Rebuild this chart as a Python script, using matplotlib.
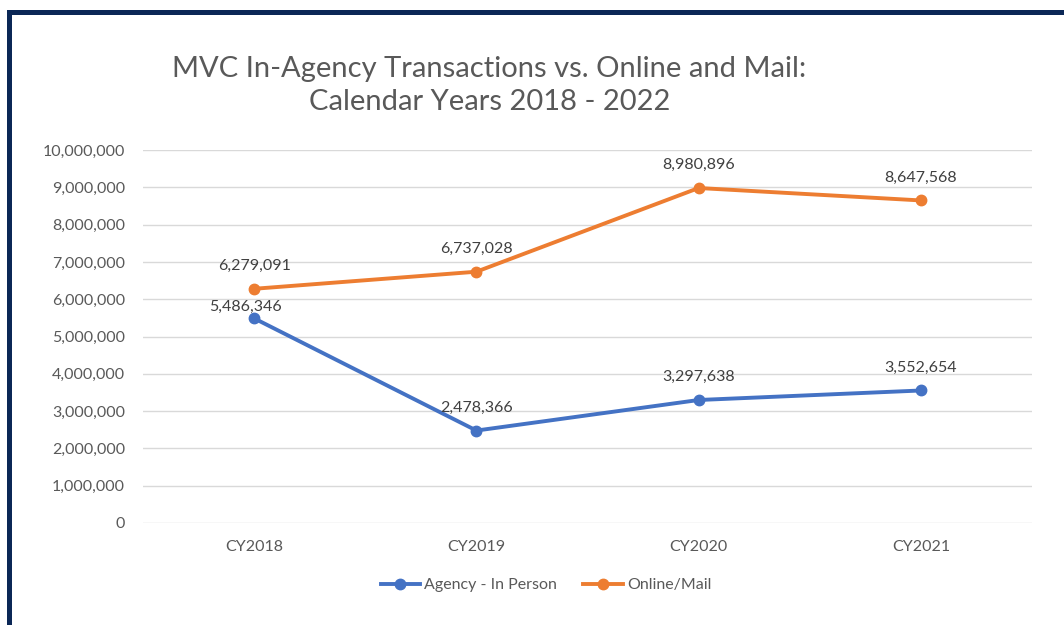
import matplotlib
matplotlib.use('Agg')
import matplotlib.pyplot as plt
from matplotlib.patches import Rectangle

# Данные
years = ['CY2018', 'CY2019', 'CY2020', 'CY2021']
in_person = [5486346, 2478366, 3297638, 3552654]
online_mail = [6279091, 6737028, 8980896, 8647568]

plt.rcParams['font.family'] = ['Lato', 'DejaVu Sans']

blue = '#4472C4'
orange = '#ED7D31'
tick_color = '#595959'
label_color = '#404040'

fig = plt.figure(figsize=(10.64, 6.25), dpi=100)
ax = fig.add_axes([0.1344, 0.1632, 0.8356, 0.5968])

x = range(len(years))
ax.plot(x, in_person, color=blue, lw=2.8, marker='o', ms=7.5, label='Agency - In Person')
ax.plot(x, online_mail, color=orange, lw=2.8, marker='o', ms=7.5, label='Online/Mail')

# Подписи значений
for i, v in enumerate(online_mail):
    ax.annotate(f'{v:,}', (i, v), xytext=(0, 16.5), textcoords='offset points',
                ha='center', va='center', fontsize=11.5, color=label_color)
for i, v in enumerate(in_person):
    off = (-6.5, 8.3) if i == 0 else (0, 16.5)
    ax.annotate(f'{v:,}', (i, v), xytext=off, textcoords='offset points',
                ha='center', va='center', fontsize=11.5, color=label_color)

ax.set_xlim(-0.5, 3.5)
ax.set_ylim(0, 10000000)
ax.set_yticks(range(0, 10000001, 1000000))
ax.yaxis.set_major_formatter(matplotlib.ticker.FuncFormatter(lambda v, p: f'{int(v):,}'))
ax.set_xticks(list(x))
ax.set_xticklabels(years)
ax.tick_params(length=0, labelsize=11.5, labelcolor=tick_color)
ax.tick_params(axis='y', pad=13)
ax.tick_params(axis='x', pad=12)
ax.grid(axis='y', color='#D9D9D9', lw=1)
ax.set_axisbelow(True)
for s in ax.spines.values():
    s.set_visible(False)

fig.text(0.46, 0.863, 'MVC In-Agency Transactions vs. Online and Mail:\nCalendar Years 2018 - 2022',
         ha='center', va='center', fontsize=21, color=tick_color, linespacing=1.32)

fig.legend(loc='center', bbox_to_anchor=(0.513, 0.064), ncol=2, frameon=False,
           fontsize=11.5, labelcolor=tick_color, handlelength=2.5, handletextpad=0.25,
           columnspacing=1.6)

# Рамка
navy = '#0B2756'
fig.add_artist(Rectangle((7 / 1064, 1 - 15 / 625), 1, 5 / 625, transform=fig.transFigure,
                         color=navy, lw=0))
fig.add_artist(Rectangle((7 / 1064, 0), 5 / 1064, 1 - 10 / 625, transform=fig.transFigure,
                         color=navy, lw=0))

fig.savefig('out.png', dpi=100)
